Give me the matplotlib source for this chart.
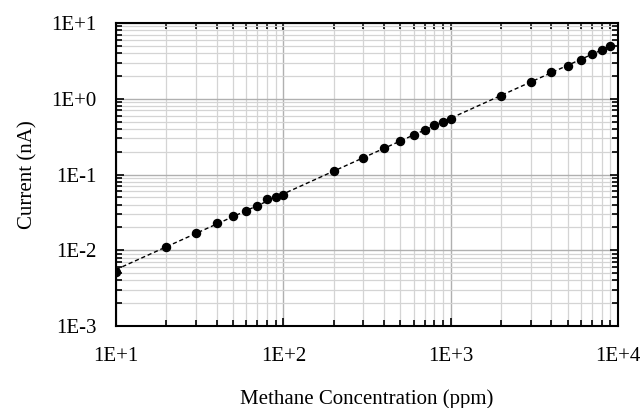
import matplotlib
matplotlib.use("Agg")
import matplotlib.pyplot as plt
import numpy as np
from matplotlib.ticker import LogLocator, FixedLocator, FixedFormatter, NullFormatter

plt.rcParams['font.family'] = ['Liberation Serif', 'DejaVu Serif']

# data
conc = [10, 20, 30, 40, 50, 60, 70, 80, 90, 100,
        200, 300, 400, 500, 600, 700, 800, 900, 1000,
        2000, 3000, 4000, 5000, 6000, 7000, 8000, 9000]
current = [0.0051, 0.0111, 0.0167, 0.0227, 0.0283, 0.0333, 0.0387, 0.0475, 0.0509, 0.054,
           0.111, 0.167, 0.226, 0.279, 0.335, 0.391, 0.446, 0.498, 0.535,
           1.087, 1.65, 2.23, 2.73, 3.28, 3.86, 4.36, 4.97]
xticks = [1e1, 1e2, 1e3, 1e4]
xlabels = ["1E+1", "1E+2", "1E+3", "1E+4"]
yticks = [1e-3, 1e-2, 1e-1, 1e0, 1e1]
ylabels = ["1E-3", "1E-2", "1E-1", "1E+0", "1E+1"]

# power-law trend line
lx = np.log10(conc)
ly = np.log10(current)
k, b = np.polyfit(lx, ly, 1)
xf = np.array([conc[0], conc[-1]])
yf = 10 ** (k * np.log10(xf) + b)

fig = plt.figure(figsize=(6.43, 4.08), dpi=100)
ax = fig.add_axes([116/643, 1 - 326/408, (618-116)/643, (326-23)/408])
ax.set_xscale('log')
ax.set_yscale('log')
ax.set_xlim(10, 10000)
ax.set_ylim(1e-3, 10)

ax.grid(True, which='minor', color='#d4d4d4', linewidth=0.9)
ax.grid(True, which='major', color='#b0b0b0', linewidth=1.0)
ax.set_axisbelow(True)

ax.plot(xf, yf, color='black', linestyle=(0, (3, 2)), linewidth=1.0, zorder=3)
ax.plot(conc, current, 'o', color='black', markersize=5.8, zorder=4)

ax.xaxis.set_major_locator(FixedLocator(xticks))
ax.xaxis.set_major_formatter(FixedFormatter(xlabels))
ax.yaxis.set_major_locator(FixedLocator(yticks))
ax.yaxis.set_major_formatter(FixedFormatter(ylabels))
ax.xaxis.set_minor_locator(LogLocator(base=10, subs=np.arange(2, 10)))
ax.yaxis.set_minor_locator(LogLocator(base=10, subs=np.arange(2, 10)))
ax.xaxis.set_minor_formatter(NullFormatter())
ax.yaxis.set_minor_formatter(NullFormatter())

ax.tick_params(which='both', direction='in', top=True, right=True, labelsize=15, width=1.2)
ax.tick_params(which='major', length=6)
ax.tick_params(axis='y', which='major', pad=14)
ax.tick_params(axis='x', which='major', pad=15)
ax.tick_params(which='minor', length=4)
for s in ax.spines.values():
    s.set_linewidth(1.5)

ax.set_xlabel("Methane Concentration (ppm)", fontsize=15, labelpad=17)
ax.set_ylabel("Current (nA)", fontsize=15, labelpad=10)

fig.savefig("out.png", dpi=100)
